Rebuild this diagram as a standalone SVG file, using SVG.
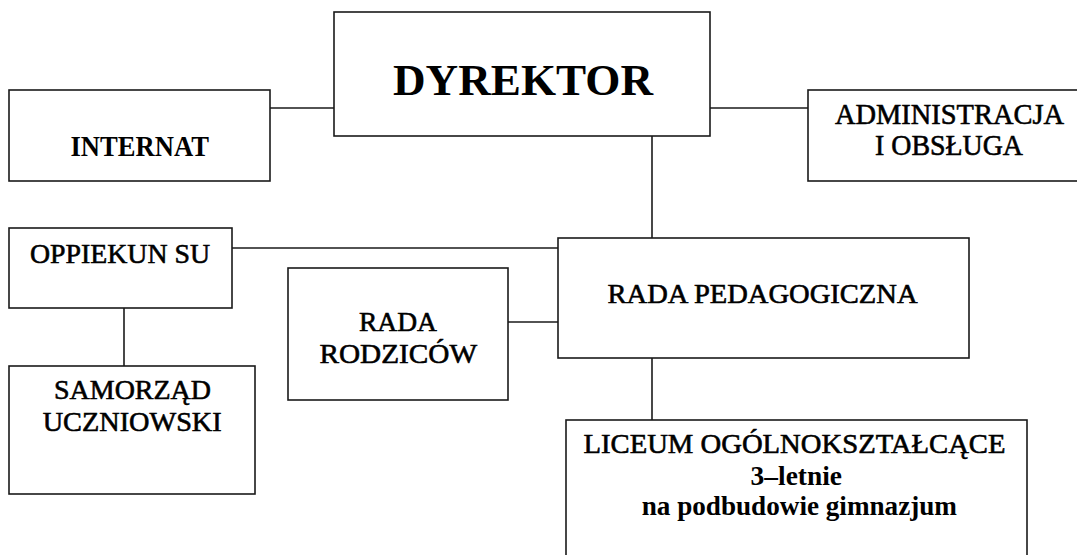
<svg xmlns="http://www.w3.org/2000/svg" width="1077" height="555" viewBox="0 0 1077 555">
<style>
.box{fill:#fff;stroke:#1a1a1a;stroke-width:1.6}
.ln{stroke:#1a1a1a;stroke-width:1.6;fill:none}
text{font-family:"Liberation Serif","DejaVu Serif","Times New Roman",serif;fill:#000}
.t{font-size:28px;stroke:#000;stroke-width:0.6}
.tb{font-size:28px;font-weight:bold}
</style>
<rect width="1077" height="555" fill="#fff"/>
<g id="connectors">
<line class="ln" x1="270" y1="108" x2="334" y2="108"/>
<line class="ln" x1="710" y1="108" x2="808" y2="108"/>
<line class="ln" x1="652" y1="136" x2="652" y2="238"/>
<line class="ln" x1="232" y1="248" x2="558" y2="248"/>
<line class="ln" x1="508" y1="322" x2="558" y2="322"/>
<line class="ln" x1="124" y1="308" x2="124" y2="366"/>
<line class="ln" x1="652" y1="358" x2="652" y2="420"/>
</g>
<g id="dyrektor">
<rect class="box" x="334" y="12" width="376" height="124"/>
<text x="393" y="95" font-size="45" font-weight="bold" textLength="260" lengthAdjust="spacingAndGlyphs">DYREKTOR</text>
</g>
<g id="internat">
<rect class="box" x="9" y="90" width="261" height="91"/>
<text x="70.5" y="156" font-size="30" font-weight="bold" textLength="138.5" lengthAdjust="spacingAndGlyphs">INTERNAT</text>
</g>
<g id="administracja">
<rect class="box" x="808" y="90" width="290" height="91"/>
<text class="t" x="835" y="123.5" style="font-size:30px" textLength="229" lengthAdjust="spacingAndGlyphs">ADMINISTRACJA</text>
<text class="t" x="875" y="155" style="font-size:30px" textLength="148" lengthAdjust="spacingAndGlyphs">I OBSŁUGA</text>
</g>
<g id="opiekun">
<rect class="box" x="9" y="228" width="223" height="80"/>
<text class="t" x="30" y="263" textLength="180" lengthAdjust="spacingAndGlyphs">OPPIEKUN SU</text>
</g>
<g id="samorzad">
<rect class="box" x="9" y="366" width="246" height="128"/>
<text class="t" x="54" y="399.3" textLength="157" lengthAdjust="spacingAndGlyphs">SAMORZĄD</text>
<text class="t" x="42.7" y="430.7" textLength="179" lengthAdjust="spacingAndGlyphs">UCZNIOWSKI</text>
</g>
<g id="rada-rodzicow">
<rect class="box" x="288" y="268" width="220" height="132"/>
<text class="t" x="359" y="330.7" textLength="78" lengthAdjust="spacingAndGlyphs">RADA</text>
<text class="t" x="319.5" y="363.3" textLength="157.5" lengthAdjust="spacingAndGlyphs">RODZICÓW</text>
</g>
<g id="rada-pedagogiczna">
<rect class="box" x="558" y="238" width="411" height="120"/>
<text class="t" x="607.5" y="302.7" textLength="310" lengthAdjust="spacingAndGlyphs">RADA PEDAGOGICZNA</text>
</g>
<g id="liceum">
<rect class="box" x="566" y="420" width="461" height="200"/>
<text class="t" x="583.5" y="452.5" textLength="422" lengthAdjust="spacingAndGlyphs">LICEUM OGÓLNOKSZTAŁCĄCE</text>
<text class="tb" x="750.6" y="485" textLength="91.4" lengthAdjust="spacingAndGlyphs">3–letnie</text>
<text class="tb" x="641.7" y="515" textLength="315.3" lengthAdjust="spacingAndGlyphs">na podbudowie gimnazjum</text>
</g>
</svg>
